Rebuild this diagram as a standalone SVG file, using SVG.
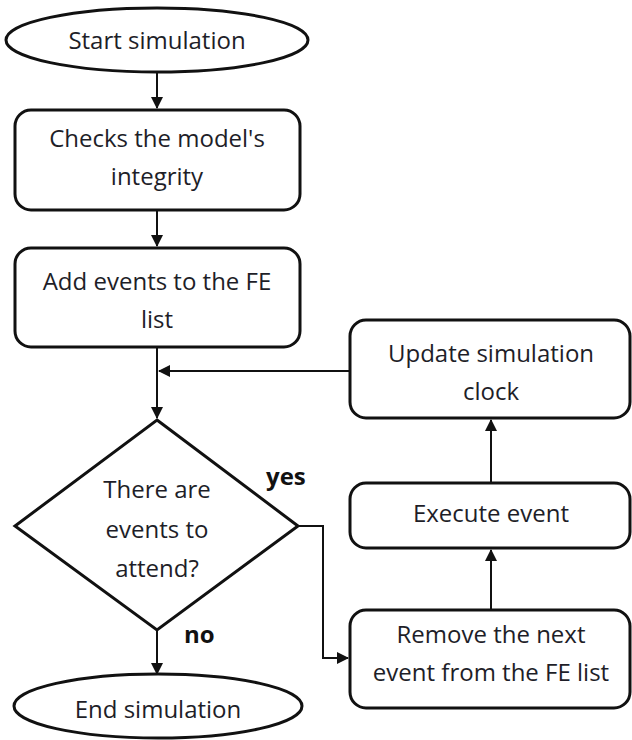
<svg xmlns="http://www.w3.org/2000/svg" width="632" height="740" viewBox="0 0 632 740">
<style>
.shape{fill:#fff;stroke:#111;stroke-width:3}
.conn{fill:none;stroke:#111;stroke-width:2}
text{font-family:"Open Sans","Noto Sans",sans-serif;font-size:24px;fill:#1e1e28;text-anchor:middle}
.lbl{font-weight:bold;text-anchor:start;fill:#111}
</style>
<defs>
<marker id="ah" markerWidth="12" markerHeight="12" refX="11" refY="6" orient="auto" markerUnits="userSpaceOnUse">
<path d="M0,0 L12,6 L0,12 Z" fill="#111"/>
</marker>
</defs>
<rect width="632" height="740" fill="#fff"/>
<g id="connectors">
<line class="conn" x1="157" y1="72" x2="157" y2="108" marker-end="url(#ah)"/>
<line class="conn" x1="157" y1="210" x2="157" y2="246" marker-end="url(#ah)"/>
<line class="conn" x1="157" y1="347" x2="157" y2="418" marker-end="url(#ah)"/>
<line class="conn" x1="350" y1="371" x2="159" y2="371" marker-end="url(#ah)"/>
<line class="conn" x1="157" y1="630" x2="157" y2="674" marker-end="url(#ah)"/>
<polyline class="conn" points="298,526 323,526 323,658 348,658" marker-end="url(#ah)"/>
<line class="conn" x1="491" y1="610" x2="491" y2="550" marker-end="url(#ah)"/>
<line class="conn" x1="491" y1="483" x2="491" y2="420" marker-end="url(#ah)"/>
</g>
<g id="start">
<ellipse class="shape" cx="157" cy="40" rx="151" ry="32"/>
<text x="157" y="49">Start simulation</text>
</g>
<g id="check">
<rect class="shape" x="15" y="110" width="285" height="100" rx="16"/>
<text x="157" y="147">Checks the model's</text>
<text x="157" y="185">integrity</text>
</g>
<g id="add">
<rect class="shape" x="15" y="248" width="285" height="99" rx="16"/>
<text x="157" y="290">Add events to the FE</text>
<text x="157" y="328">list</text>
</g>
<g id="decision">
<polygon class="shape" points="157,420 298,526 157,630 15,526"/>
<text x="157" y="498">There are</text>
<text x="157" y="538">events to</text>
<text x="157" y="577">attend?</text>
</g>
<g id="end">
<ellipse class="shape" cx="158" cy="706" rx="144" ry="32"/>
<text x="158" y="718">End simulation</text>
</g>
<g id="update">
<rect class="shape" x="350" y="320" width="280" height="98" rx="16"/>
<text x="491" y="362">Update simulation</text>
<text x="491" y="400">clock</text>
</g>
<g id="execute">
<rect class="shape" x="350" y="483" width="280" height="65" rx="16"/>
<text x="491" y="522">Execute event</text>
</g>
<g id="remove">
<rect class="shape" x="350" y="610" width="280" height="98" rx="16"/>
<text x="491" y="643">Remove the next</text>
<text x="491" y="681">event from the FE list</text>
</g>
<g id="labels">
<text class="lbl" x="266" y="485">yes</text>
<text class="lbl" x="184" y="643">no</text>
</g>
</svg>
